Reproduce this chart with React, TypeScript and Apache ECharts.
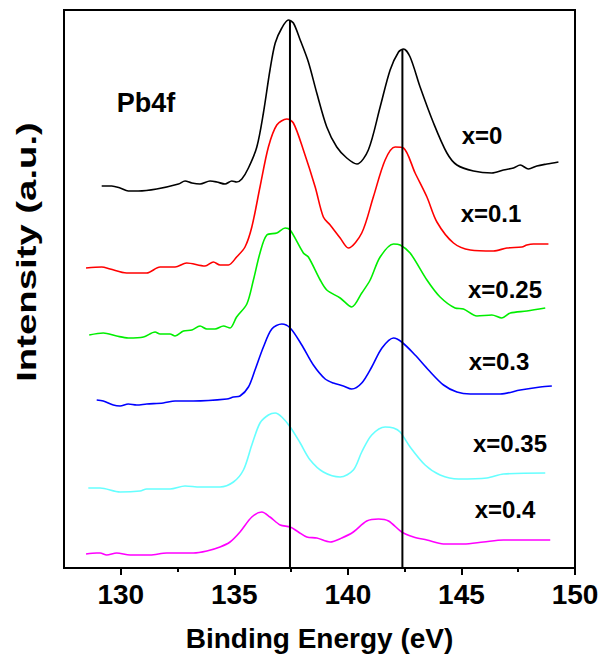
import React, { useEffect, useRef } from "react";
import * as echarts from "echarts";

// Binding energy (eV) and offset intensity (a.u.) for each composition
const energyX0 = [129.16,129.6,129.97,130.33,130.77,131.58,132.54,132.83,133.13,133.49,133.93,134.23,134.59,134.89,135.1,135.33,135.62,135.99,136.28,136.57,136.8,137.09,137.38,137.6,137.9,138.26,138.63,139.07,139.51,139.95,140.4,140.9,141.42,141.86,142.23,142.45,142.74,143.18,143.77,144.36,144.8,145.53,146.34,146.85,147.29,147.59,147.95,148.32,148.76,149.27];
const intensX0 = [382,382,380,377,377,379,384,387,385,384,387,386,384,387,386,389,400,421,455,498,525,540,548,545,528,506,475,441,421,410,404,418,461,498,516,519,511,481,445,415,403,397,395,398,400,403,399,402,404,406];

const energyX01 = [128.47,129.16,129.53,130.26,131.14,131.73,132.39,132.9,133.71,134.08,134.37,134.74,135.1,135.47,135.77,136.13,136.5,136.87,137.31,137.6,138.04,138.56,138.92,139.22,139.66,140.02,140.61,141.12,141.64,142.08,142.45,142.96,143.48,143.92,144.65,145.39,146.41,147.0,147.66,147.88,148.17,148.83];
const intensX01 = [300,301,299,295,295,301,301,305,302,306,303,303,311,321,341,381,421,443,449,445,418,381,351,343,330,320,335,371,408,421,420,395,371,346,325,318,317,320,321,323,324,324];

const energyX025 = [128.61,129.23,129.82,130.33,131.0,131.51,131.73,132.17,132.39,132.76,133.13,133.49,133.79,134.15,134.52,134.81,135.1,135.55,135.84,136.13,136.43,136.87,137.24,137.46,138.04,138.26,138.78,139.07,139.66,140.17,140.61,140.98,141.42,142.01,142.3,142.74,143.48,144.06,144.72,145.09,145.68,146.34,146.78,147.15,147.88,148.69];
const intensX025 = [233,235,232,230,231,236,234,234,232,237,238,242,239,239,242,240,251,264,288,315,333,335,340,338,315,311,288,278,270,261,275,288,311,324,323,315,288,271,260,259,252,253,250,255,257,260];

const energyX03 = [128.94,129.23,129.67,129.97,130.33,130.7,131.14,131.87,132.39,133.2,134.67,134.96,135.25,135.62,135.91,136.28,136.65,137.09,137.46,137.97,138.48,139.0,139.36,139.8,140.17,140.61,141.05,141.5,142.01,142.37,142.96,143.55,144.21,144.8,145.39,146.71,147.59,148.47,148.98];
const intensX03 = [168,167,163,162,164,163,164,165,167,167,169,171,172,181,198,221,239,244,240,223,203,189,185,182,179,185,201,220,230,226,213,198,183,176,174,174,178,181,182];

const energyX035 = [128.57,129.09,129.97,130.85,131.14,132.17,132.83,133.49,134.37,134.96,135.4,135.77,136.13,136.5,136.8,137.09,137.46,137.9,138.34,138.92,139.66,140.24,140.61,141.05,141.64,142.01,142.3,142.74,143.4,144.06,144.87,146.12,146.85,148.69];
const intensX035 = [80,80,76,77,79,79,82,81,81,86,98,123,145,153,155,151,141,125,108,96,91,98,116,133,141,140,136,121,103,93,89,90,94,95];

const energyX04 = [128.47,128.94,129.09,129.38,129.82,130.41,131.29,132.02,133.2,133.79,134.37,134.81,135.25,135.77,136.21,136.57,137.02,137.46,137.82,138.19,138.63,139.22,139.73,140.24,140.83,141.35,141.79,142.37,142.89,143.48,144.21,145.09,145.97,146.85,148.91];
const intensX04 = [14,15,15,13,15,13,13,15,15,17,21,26,36,51,56,51,43,41,36,31,30,26,30,36,47,49,47,36,31,28,24,24,26,28,28];

const seriesNames = ["x=0", "x=0.1", "x=0.25", "x=0.3", "x=0.35", "x=0.4"];
const seriesColors = ["#000000", "#ff0000", "#00ee00", "#0000ff", "#66ffff", "#ff00ff"];

// Reference peak positions (Pb 4f7/2, Pb 4f5/2) and their tops
const peakEnergies = [137.45, 142.4];
const peakTops = [548, 519];

const xTicks = [130, 135, 140, 145, 150];
const xMinorTicks = [132.5, 137.5, 142.5, 147.5];

const FONT = "Liberation Sans, Arial, Helvetica, sans-serif";

export default function App() {
  const ref = useRef<HTMLDivElement>(null);
  useEffect(() => {
    if (!ref.current) return;
    const chart = echarts.init(ref.current, null, { renderer: "svg" });
    const energies = [energyX0, energyX01, energyX025, energyX03, energyX035, energyX04];
    const intens = [intensX0, intensX01, intensX025, intensX03, intensX035, intensX04];
    const curveSeries = seriesNames.map((name, i) => ({
      name,
      type: "line",
      data: energies[i].map((e, k) => [e, intens[i][k]]),
      showSymbol: false,
      smooth: 0.3,
      lineStyle: { color: seriesColors[i], width: 1.6 },
      z: 3,
    }));
    const refSeries = peakEnergies.map((e, i) => ({
      type: "line",
      data: [[e, 0], [e, peakTops[i]]],
      showSymbol: false,
      lineStyle: { color: "#000", width: 2 },
      z: 4,
    }));
    const labelPos: [number, number][] = [
      [482, 135], [491, 213], [505, 289], [499, 361], [510, 443], [505, 509],
    ];
    chart.setOption({
      animation: false,
      grid: {
        left: 64, top: 10, right: 24, bottom: 90,
        containLabel: false, outerBoundsMode: "none",
        show: true, borderColor: "#000", borderWidth: 2,
      },
      xAxis: [
        {
          type: "value", min: 127.5, max: 150, interval: 2.5,
          axisLine: { show: true, lineStyle: { color: "#000", width: 2 } },
          axisTick: { show: true, length: 7, lineStyle: { color: "#000", width: 2 }, customValues: xTicks },
          axisLabel: {
            show: true,
            color: "#000", fontSize: 28, fontWeight: "bold",
            fontFamily: FONT, margin: 12,
            formatter: (v: number) => (xTicks.indexOf(v) >= 0 ? String(v) : ""),
          },
          splitLine: { show: false },
          name: "Binding Energy (eV)", nameLocation: "middle", nameGap: 56,
          nameTextStyle: { fontSize: 28, fontWeight: "bold", color: "#000", fontFamily: FONT },
        },
        {
          type: "value", min: 127.5, max: 150, position: "bottom",
          axisLine: { show: false },
          axisTick: { show: true, length: 4, lineStyle: { color: "#000", width: 2 }, customValues: xMinorTicks },
          axisLabel: { show: false },
          splitLine: { show: false },
        },
      ],
      yAxis: {
        type: "value", min: 0, max: 558,
        axisLine: { show: true, lineStyle: { color: "#000", width: 2 } },
        axisTick: { show: false },
        axisLabel: { show: false },
        splitLine: { show: false },
      },
      series: [...curveSeries, ...refSeries],
      graphic: [
        {
          type: "text", x: 146, y: 103,
          style: { text: "Pb4f", font: `bold 27px ${FONT}`, fill: "#000", align: "center", verticalAlign: "middle" },
        },
        ...seriesNames.map((n, i) => ({
          type: "text", x: labelPos[i][0], y: labelPos[i][1],
          style: { text: n, font: `bold 24px ${FONT}`, fill: "#000", align: "center", verticalAlign: "middle" },
        })),
        {
          type: "text", x: 27, y: 252, rotation: Math.PI / 2, scaleX: 1.42,
          style: { text: "Intensity (a.u.)", font: `bold 27px ${FONT}`, fill: "#000", align: "center", verticalAlign: "middle" },
        },
      ],
    });
    return () => chart.dispose();
  }, []);
  return <div ref={ref} style={{ width: 599, height: 658, position: "absolute", left: 0, top: 0 }} />;
}
